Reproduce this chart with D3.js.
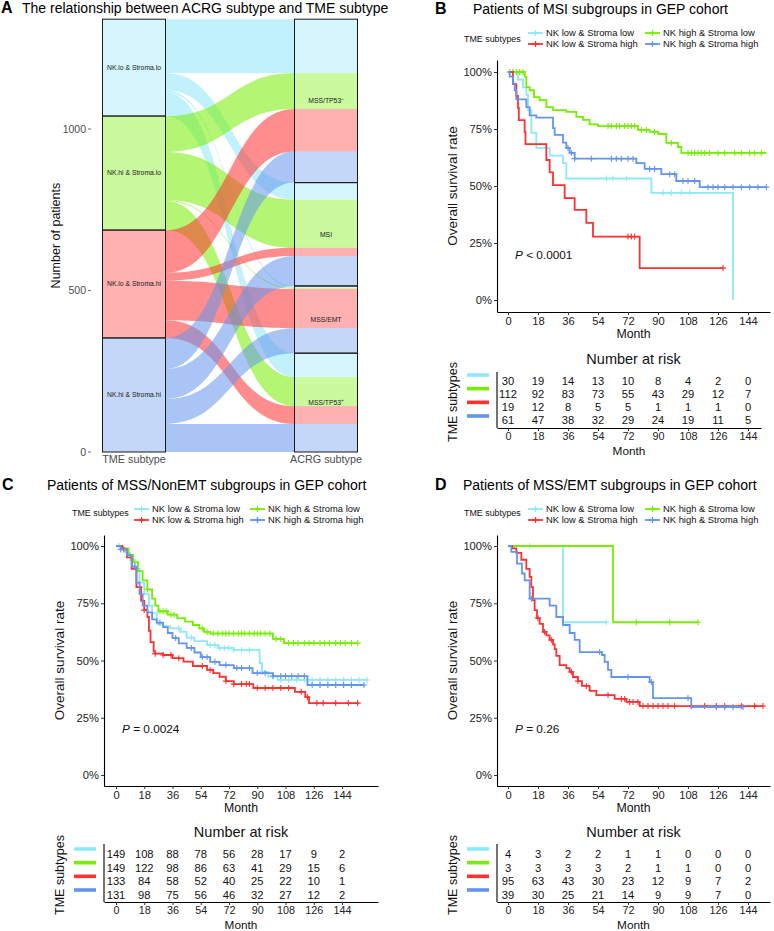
<!DOCTYPE html>
<html>
<head>
<meta charset="utf-8">
<script src="https://cdn.jsdelivr.net/npm/d3@7"></script>
<style>
  body { margin: 0; background: #fff; }
  svg { font-family: "Liberation Sans", Arial, sans-serif; }
</style>
</head>
<body>
<svg id="fig" width="774" height="931"></svg>
<script>
// ---------- panel A data ----------
const tmeTypes = ["NK.lo & Stroma.lo", "NK.hi & Stroma.lo", "NK.lo & Stroma.hi", "NK.hi & Stroma.hi"];
const acrgTypes = ["MSS/TP53-", "MSI", "MSS/EMT", "MSS/TP53+"];
// patients of each TME subtype (rows) going to each ACRG subtype (columns)
const flowCounts = [
  [167, 53, 6, 74],
  [111, 149, 3, 90],
  [132, 25, 122, 55],
  [96, 93, 77, 87]
];
const countTicks = [0, 500, 1000];

// ---------- survival panels data ----------
const groups = ["NK low & Stroma low", "NK high & Stroma low", "NK low & Stroma high", "NK high & Stroma high"];
const monthTicks = [0, 18, 36, 54, 72, 90, 108, 126, 144];

// B: MSI  (steps are [month, survival])
const bLoLo = [[0,1],[6,0.967],[9,0.933],[11,0.9],[12,0.833],[14,0.733],[17,0.667],[25,0.633],[33,0.6],[35,0.533],[86,0.47],[135,0],[135,0]];
const bHiLo = [[0,1],[10,0.98],[11,0.934],[13,0.92],[15.6,0.89],[19,0.877],[23,0.846],[27,0.833],[35,0.825],[41,0.803],[45,0.79],[49,0.77],[54,0.763],[78,0.746],[85,0.737],[90,0.728],[95,0.689],[102,0.671],[104,0.645],[155,0.645]];
const bLoHi = [[0,1],[3,0.947],[5,0.895],[6,0.842],[6.5,0.789],[10,0.737],[10.5,0.684],[23,0.614],[25,0.56],[27,0.504],[34,0.447],[40,0.395],[47,0.338],[51,0.278],[79,0.14],[129,0.14]];
const bHiHi = [[0,1],[1,0.98],[3,0.95],[4,0.92],[5,0.88],[11,0.846],[13,0.81],[17,0.8],[27,0.754],[28,0.724],[33,0.69],[35,0.667],[37,0.645],[40,0.62],[77,0.6],[82,0.575],[92,0.552],[101,0.522],[115,0.495],[155,0.495]];
const bCensor = [
  [1,3,59,63,71,93,98,104,109],
  [1,3,5,7,9,60,62,65,67,70,72,74,76,80,83,88,98,108,110,112,114,116,118,121,126,130,136,140,145,148,152],
  [72,74,76,129],
  [36,38,40,50,62,65,68,72,75,85,88,97,100,105,108,112,120,123,126,130,135,140,145,150,155]
];
const bRisk = [
  [30,19,14,13,10,8,4,2,0],
  [112,92,83,73,55,43,29,12,7],
  [19,12,8,5,5,1,1,1,0],
  [61,47,38,32,29,24,19,11,5]
];

// C: MSS/NonEMT
const cLoLo = [[0,1],[3,0.99],[6,0.97],[9,0.94],[12,0.9],[15,0.84],[18,0.79],[21,0.74],[23,0.707],[26,0.66],[30,0.65],[34.5,0.64],[41,0.625],[45,0.6],[50,0.585],[58,0.568],[65,0.555],[75,0.546],[91.5,0.489],[93,0.45],[97,0.43],[103,0.415],[160,0.415]];
const cHiLo = [[0,1],[4,0.99],[8,0.96],[11,0.93],[14,0.89],[17,0.85],[20,0.81],[23,0.77],[25,0.74],[27,0.715],[33,0.7],[39,0.685],[44,0.67],[49,0.655],[53,0.64],[56,0.625],[60,0.618],[100,0.594],[107,0.576],[154,0.576]];
const cLoHi = [[0,1],[4,0.985],[7,0.95],[10,0.9],[13,0.82],[16,0.76],[18,0.72],[20,0.69],[21,0.63],[22,0.58],[24,0.54],[25,0.53],[30,0.524],[36,0.51],[43,0.495],[49,0.476],[58,0.459],[62,0.445],[66,0.429],[70,0.41],[75,0.397],[87.5,0.38],[114,0.363],[120.6,0.34],[123,0.314],[154.5,0.314]];
const cHiHi = [[0,1],[3,0.985],[7,0.96],[10,0.91],[13,0.84],[15,0.79],[17,0.74],[20,0.71],[23,0.68],[26,0.665],[30,0.646],[33,0.62],[36,0.598],[40,0.575],[45,0.555],[50,0.535],[54,0.515],[60,0.494],[66,0.48],[75,0.467],[87,0.445],[100,0.432],[122,0.393],[158,0.393]];
const cCensor = [
  [2,40,48,60,63,66,69,72,75,80,85,93,100,105,110,115,120,125,130,135,140,145,150,155,160],
  [20,28,30,32,35,37,55,58,62,65,68,70,72,75,78,80,82,85,88,90,92,95,98,102,105,110,113,116,120,123,126,130,133,136,140,143,146,150,154],
  [5,15,18,25,30,35,40,55,60,70,75,80,83,85,90,95,100,105,110,118,122,128,132,140,148,154],
  [3,12,28,38,48,55,58,63,70,77,80,85,90,95,100,105,108,112,116,120,125,130,135,140,145,150,158]
];
const cRisk = [
  [149,108,88,78,56,28,17,9,2],
  [149,122,98,86,63,41,29,15,6],
  [133,84,58,52,40,25,22,10,1],
  [131,98,75,56,46,32,27,12,2]
];

// D: MSS/EMT
const dLoLo = [[0,1],[33,0.667],[59,0.667]];
const dHiLo = [[0,1],[63,0.667],[114,0.667]];
const dLoHi = [[0,1],[2.5,0.99],[5,0.97],[8,0.94],[11,0.9],[13,0.865],[14,0.82],[15,0.764],[16,0.72],[17.4,0.685],[19,0.66],[21,0.625],[23,0.61],[25,0.59],[27,0.57],[28,0.55],[29,0.52],[31,0.48],[35,0.467],[37,0.45],[39,0.428],[42,0.41],[44.4,0.389],[49,0.367],[53,0.349],[64,0.332],[71,0.319],[79,0.301],[153,0.301]];
const dHiHi = [[0,1],[2,0.974],[5.4,0.923],[8.4,0.88],[10,0.85],[13,0.77],[25,0.74],[29,0.69],[33,0.655],[37,0.62],[40,0.59],[43,0.537],[56.4,0.524],[58,0.494],[60,0.459],[62,0.428],[85,0.406],[87,0.336],[110,0.297],[141,0.297]];
const dCensor = [
  [13,59],
  [77,97,114],
  [18,22,26,38,42,47,60,68,70,73,75,78,81,84,87,90,93,96,100,110,118,125,130,140,148,153],
  [14,55,72,86,108,125,130,135,141]
];
const dRisk = [
  [4,3,2,2,1,1,0,0,0],
  [3,3,3,3,2,1,1,0,0],
  [95,63,43,30,23,12,9,7,2],
  [39,30,25,21,14,9,9,7,0]
];

// ---------- styles ----------
const baseColors = ["#8EE8F8", "#76EE00", "#FF3030", "#6495ED"];
const svg = d3.select("#fig");

// ================= PANEL A =================
(function alluvial() {
  const g = svg.append("g");
  const y = d3.scaleLinear().domain([0, 1000]).range([452, 129]);
  const x = d3.scalePoint().domain(["TME subtype", "ACRG subtype"]).range([134, 326]);
  const sw = 63;
  const rowSum = flowCounts.map(r => d3.sum(r));
  const colSum = acrgTypes.map((_, k) => d3.sum(flowCounts, r => r[k]));
  const total = d3.sum(rowSum);

  const leftTop = [], rightTop = [];
  let acc = total;
  rowSum.forEach(s => { leftTop.push(acc); acc -= s; });
  acc = total;
  colSum.forEach(s => { rightTop.push(acc); acc -= s; });

  const lcur = leftTop.slice(), rcur = rightTop.slice();
  const flows = [];
  flowCounts.forEach((row, i) => row.forEach((v, k) => {
    flows.push({ i, k, l0: lcur[i], l1: lcur[i] - v, r0: rcur[k], r1: rcur[k] - v });
    lcur[i] -= v; rcur[k] -= v;
  }));

  const x0 = x("TME subtype") + sw / 2, x1 = x("ACRG subtype") - sw / 2, xm = (x0 + x1) / 2;
  g.selectAll("path.flow").data(flows).join("path")
    .attr("class", "flow")
    .attr("d", f => `M${x0},${y(f.l0)}C${xm},${y(f.l0)} ${xm},${y(f.r0)} ${x1},${y(f.r0)}` +
      `L${x1},${y(f.r1)}C${xm},${y(f.r1)} ${xm},${y(f.l1)} ${x0},${y(f.l1)}Z`)
    .attr("fill", f => baseColors[f.i])
    .attr("fill-opacity", 0.55);

  // lodes inside the right strata
  g.selectAll("rect.lode").data(flows).join("rect")
    .attr("x", x1).attr("width", sw)
    .attr("y", f => y(f.r0)).attr("height", f => y(f.r1) - y(f.r0))
    .attr("fill", f => baseColors[f.i]).attr("fill-opacity", 0.38);

  // left strata
  g.selectAll("rect.ls").data(tmeTypes).join("rect")
    .attr("x", x0 - sw).attr("width", sw)
    .attr("y", (d, i) => y(leftTop[i])).attr("height", (d, i) => y(leftTop[i] - rowSum[i]) - y(leftTop[i]))
    .attr("fill", (d, i) => baseColors[i]).attr("fill-opacity", 0.38)
    .attr("stroke", "#1a1a1a").attr("stroke-width", 1);
  g.selectAll("rect.rs").data(acrgTypes).join("rect")
    .attr("x", x1).attr("width", sw)
    .attr("y", (d, k) => y(rightTop[k])).attr("height", (d, k) => y(rightTop[k] - colSum[k]) - y(rightTop[k]))
    .attr("fill", "none")
    .attr("stroke", "#1a1a1a").attr("stroke-width", 1);

  g.selectAll("text.ll").data(tmeTypes).join("text")
    .attr("x", x("TME subtype")).attr("y", (d, i) => y(leftTop[i] - rowSum[i] / 2) + 2.4)
    .attr("text-anchor", "middle").attr("font-size", 6.8).attr("fill", "#222")
    .text(d => d);
  const rl = g.selectAll("text.rl").data(acrgTypes).join("text")
    .attr("x", x("ACRG subtype")).attr("y", (d, k) => y(rightTop[k] - colSum[k] / 2) + 2.4)
    .attr("text-anchor", "middle").attr("font-size", 6.8).attr("fill", "#222");
  rl.each(function (d) {
    const sign = d.slice(-1);
    const t = d3.select(this);
    if (sign === "-" || sign === "+") {
      t.append("tspan").text(d.slice(0, -1));
      t.append("tspan").attr("dy", -2.5).attr("font-size", 4.5).text(sign === "-" ? "\u2013" : "+");
    } else t.text(d);
  });

  // axes
  countTicks.forEach(v => {
    g.append("text").attr("x", 86).attr("y", y(v) + 3.6).attr("text-anchor", "end")
      .attr("font-size", 10.5).attr("fill", "#4d4d4d").text(v);
    g.append("line").attr("x1", 88).attr("x2", 91).attr("y1", y(v)).attr("y2", y(v))
      .attr("stroke", "#4d4d4d").attr("stroke-width", 0.8);
  });
  x.domain().forEach(d => {
    g.append("text").attr("x", x(d)).attr("y", 463).attr("text-anchor", "middle")
      .attr("font-size", 10.8).attr("fill", "#4d4d4d").text(d);
  });
  g.append("text").attr("transform", `translate(60,${y(total / 2)}) rotate(-90)`)
    .attr("text-anchor", "middle").attr("font-size", 12.5).attr("fill", "#111").text("Number of patients");

  g.append("text").attr("x", 1).attr("y", 13).attr("font-size", 16).attr("font-weight", "bold").text("A");
  g.append("text").attr("x", 22).attr("y", 13).attr("font-size", 14).text("The relationship between ACRG subtype and TME subtype");
})();

// ================= KM PANELS =================
function stepAt(steps, t) {
  let s = steps[0][1];
  steps.forEach(p => { if (p[0] <= t) s = p[1]; });
  return s;
}

function styleAxis(a, fs) {
  a.select(".domain").attr("stroke", "#000").attr("stroke-width", 1.1);
  a.selectAll(".tick line").attr("stroke", "#333");
  a.selectAll(".tick text").attr("font-size", fs).attr("fill", "#222")
    .attr("font-family", "Liberation Sans, Arial, sans-serif");
}

function kmPanel(p) {
  const g = svg.append("g");
  const x = d3.scaleLinear().domain([0, 144]).range([p.x0, p.x144]);
  x.domain([x.invert(p.left), x.invert(p.right)]).range([p.left, p.right]);
  const y = d3.scaleLinear().domain([0, 1]).range([p.y0, p.y100]);
  y.domain([y.invert(p.bottom), y.invert(p.top)]).range([p.bottom, p.top]);

  // title
  g.append("text").attr("x", p.letterX).attr("y", p.titleY).attr("font-size", 16).attr("font-weight", "bold").text(p.letter);
  g.append("text").attr("x", p.titleX).attr("y", p.titleY).attr("font-size", 14).text(p.title);

  // legend
  g.append("text").attr("x", p.legTitleX).attr("y", p.legTitleY).attr("font-size", 8.9).attr("fill", "#111").text("TME subtypes");
  groups.forEach((name, i) => {
    const kx = p.keyX[i % 2], ky = p.keyY[Math.floor(i / 2)];
    g.append("line").attr("x1", kx).attr("x2", kx + 15).attr("y1", ky).attr("y2", ky)
      .attr("stroke", baseColors[i]).attr("stroke-width", 1.8);
    g.append("path").attr("d", `M${kx + 4.5},${ky}H${kx + 10.5}M${kx + 7.5},${ky - 3}V${ky + 3}`)
      .attr("stroke", baseColors[i]).attr("stroke-width", 1.3);
    g.append("text").attr("x", kx + 18).attr("y", ky + 3.3).attr("font-size", 9.4).attr("fill", "#111").text(name);
  });

  // axes
  const ax = g.append("g").attr("transform", `translate(0,${p.bottom})`)
    .call(d3.axisBottom(x).tickValues(monthTicks).tickSize(3).tickSizeOuter(0).tickPadding(2));
  const ay = g.append("g").attr("transform", `translate(${p.left},0)`)
    .call(d3.axisLeft(y).tickValues([0, 0.25, 0.5, 0.75, 1]).tickFormat(d3.format(".0%")).tickSize(3).tickSizeOuter(0).tickPadding(2));
  styleAxis(ax, 11.2); styleAxis(ay, 11.2);
  g.append("text").attr("x", (p.left + p.right) / 2).attr("y", p.bottom + 26).attr("text-anchor", "middle")
    .attr("font-size", 12.3).attr("fill", "#111").text("Month");
  g.append("text").attr("transform", `translate(${p.left - 40},${(p.top + p.bottom) / 2}) rotate(-90)`)
    .attr("text-anchor", "middle").attr("font-size", 13.5).attr("fill", "#111").text("Overall survival rate");

  // curves
  const line = d3.line().x(d => x(d[0])).y(d => y(d[1])).curve(d3.curveStepAfter);
  p.curves.forEach((c, i) => {
    g.append("path").datum(c).attr("d", line).attr("fill", "none")
      .attr("stroke", baseColors[i]).attr("stroke-width", 1.8);
    g.selectAll(null).data(p.censor[i]).join("path")
      .attr("d", t => { const cx = x(t), cy = y(stepAt(c, t)); return `M${cx - 3},${cy}H${cx + 3}M${cx},${cy - 3}V${cy + 3}`; })
      .attr("stroke", baseColors[i]).attr("stroke-width", 1.1);
  });
  const pt = g.append("text").attr("x", p.pX).attr("y", p.pY).attr("font-size", 11.8).attr("fill", "#111");
  pt.append("tspan").attr("font-style", "italic").text("P");
  pt.append("tspan").text(" " + p.pText);

  // risk table
  const r = p.risk;
  const ry = d3.scalePoint().domain(d3.range(4)).range([r.row0, r.row3]);
  const by = d3.scalePoint().domain(d3.range(4)).range([r.bar0, r.bar3]);
  g.append("text").attr("x", (p.left + p.right) / 2).attr("y", r.titleY).attr("text-anchor", "middle")
    .attr("font-size", 14.5).attr("fill", "#111").text("Number at risk");
  const xr = x.copy().range([p.left, r.right]).domain([x.invert(p.left), x.invert(r.right)]);
  const rax = g.append("g").attr("transform", `translate(0,${r.bottom})`)
    .call(d3.axisBottom(xr).tickValues(monthTicks).tickSize(3).tickSizeOuter(0).tickPadding(1));
  styleAxis(rax, 10.8);
  g.append("line").attr("x1", p.left).attr("x2", p.left).attr("y1", r.top).attr("y2", r.bottom)
    .attr("stroke", "#000").attr("stroke-width", 1.1);
  g.append("text").attr("x", (p.left + r.right) / 2).attr("y", r.monthY).attr("text-anchor", "middle")
    .attr("font-size", 11.8).attr("fill", "#111").text("Month");
  p.riskData.forEach((row, i) => {
    g.selectAll(null).data(row).join("text")
      .attr("x", (d, j) => xr(monthTicks[j])).attr("y", ry(i) + 4)
      .attr("text-anchor", "middle").attr("font-size", 11.2).attr("fill", "#111").text(d => d);
    g.append("line").attr("x1", r.barX0).attr("x2", r.barX1).attr("y1", by(i)).attr("y2", by(i))
      .attr("stroke", baseColors[i]).attr("stroke-width", 3.6);
  });
  g.append("text").attr("transform", `translate(${r.labelX},${(r.top + r.bottom) / 2 + 2}) rotate(-90)`)
    .attr("text-anchor", "middle").attr("font-size", 12.5).attr("fill", "#111").text("TME subtypes");
}

kmPanel({
  letter: "B", letterX: 435, title: "Patients of MSI subgroups in GEP cohort", titleX: 473, titleY: 14,
  legTitleX: 464, legTitleY: 42, keyX: [528, 645], keyY: [33, 44],
  left: 497, right: 770, x0: 508, x144: 748, top: 60, bottom: 312, y0: 300, y100: 72,
  curves: [bLoLo, bHiLo, bLoHi, bHiHi], censor: bCensor, riskData: bRisk,
  pX: 515, pY: 259, pText: "< 0.0001",
  risk: { titleY: 364, row0: 381, row3: 420, top: 372, bottom: 428, right: 761, monthY: 455,
          barX0: 467, barX1: 489, bar0: 375, bar3: 416, labelX: 457 }
});
kmPanel({
  letter: "C", letterX: 2, title: "Patients of MSS/NonEMT subgroups in GEP cohort", titleX: 47, titleY: 490,
  legTitleX: 72, legTitleY: 516, keyX: [134, 250], keyY: [509, 520],
  left: 104, right: 378, x0: 116, x144: 342, top: 535, bottom: 786, y0: 775, y100: 546,
  curves: [cLoLo, cHiLo, cLoHi, cHiHi], censor: cCensor, riskData: cRisk,
  pX: 122, pY: 733, pText: "= 0.0024",
  risk: { titleY: 837, row0: 854, row3: 895, top: 844, bottom: 902, right: 378, monthY: 929,
          barX0: 74, barX1: 96, bar0: 849, bar3: 890, labelX: 64 }
});
kmPanel({
  letter: "D", letterX: 435, title: "Patients of MSS/EMT subgroups in GEP cohort", titleX: 463, titleY: 490,
  legTitleX: 464, legTitleY: 516, keyX: [528, 645], keyY: [509, 520],
  left: 497, right: 770, x0: 508, x144: 748, top: 535, bottom: 786, y0: 775, y100: 546,
  curves: [dLoLo, dHiLo, dLoHi, dHiHi], censor: dCensor, riskData: dRisk,
  pX: 515, pY: 733, pText: "= 0.26",
  risk: { titleY: 837, row0: 854, row3: 895, top: 844, bottom: 902, right: 770, monthY: 929,
          barX0: 467, barX1: 489, bar0: 849, bar3: 890, labelX: 457 }
});
</script>
</body>
</html>
